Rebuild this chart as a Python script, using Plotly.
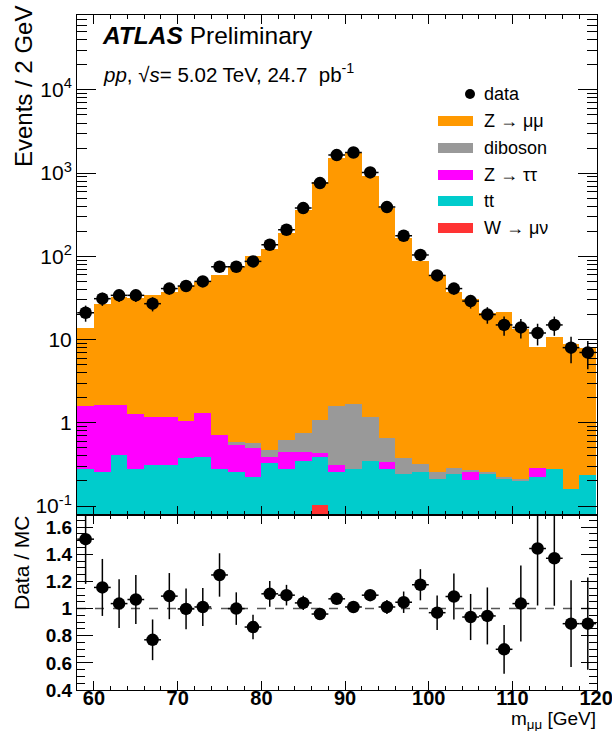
import plotly.graph_objects as go

# ---------------- data ----------------
mass = [59, 61, 63, 65, 67, 69, 71, 73, 75, 77, 79, 81, 83, 85, 87, 89,
        91, 93, 95, 97, 99, 101, 103, 105, 107, 109, 111, 113, 115, 117, 119]

data_counts = [21, 31, 34, 34, 27, 41, 44, 50, 75, 75, 87, 138, 209, 380, 760, 1650,
               1770, 1020, 391, 177, 104, 59, 41, 29, 20, 15, 14, 12, 15, 8, 7]
data_err = [4.6, 5.6, 5.8, 5.8, 5.2, 6.4, 6.6, 7.1, 8.7, 8.7, 9.3, 11.7, 14.5, 19.5, 27.6, 40.6,
            42.1, 31.9, 19.8, 13.3, 10.2, 7.7, 6.4, 5.4, 4.5, 3.9, 3.7, 3.5, 3.9, 2.8, 2.6]

zmumu = [12.3, 25.2, 31.2, 30.6, 33.9, 36.3, 43.0, 48.1, 59.4, 74.4, 100.1, 123.9, 189.4, 364.2,
         790.9, 1537, 1747, 927, 385.3, 168.6, 88.1, 60.5, 37.3, 30.6, 20.8, 21.2, 13.3, 8.0,
         10.6, 8.8, 7.7]
diboson = [0, 0, 0, 0, 0, 0, 0, 0, 0, 0.054, 0.077, 0.08, 0.18, 0.32, 0.66, 1.31,
           1.43, 0.83, 0.32, 0.13, 0.07, 0.047, 0.04, 0.01, 0.013, 0.008, 0.008, 0, 0, 0, 0]
ztautau = [1.305, 1.394, 1.24, 1.02, 0.86, 0.86, 0.69, 0.925, 0.43, 0.286, 0.275, 0.06, 0.17,
           0.10, 0.05, 0.054, 0, 0, 0.057, 0, 0, 0, 0, 0.055, 0, 0, 0, 0.063, 0, 0, 0]
ttbar = [0.28, 0.256, 0.41, 0.28, 0.31, 0.31, 0.38, 0.395, 0.28, 0.26, 0.225, 0.33, 0.28, 0.35,
         0.286, 0.256, 0.28, 0.35, 0.28, 0.247, 0.256, 0.213, 0.247, 0.205, 0.247, 0.215, 0.205,
         0.225, 0.28, 0.163, 0.238]
wmunu = [0, 0, 0, 0, 0, 0, 0, 0, 0, 0, 0, 0, 0, 0, 0.104, 0,
         0, 0, 0, 0, 0, 0, 0, 0, 0, 0, 0, 0, 0, 0, 0]

ratio = [1.512, 1.156, 1.037, 1.067, 0.770, 1.092, 0.998, 1.012, 1.248, 1.0, 0.864, 1.109, 1.099,
         1.042, 0.96, 1.072, 1.012, 1.099, 1.012, 1.047, 1.176, 0.970, 1.089, 0.938, 0.946, 0.70,
         1.037, 1.443, 1.371, 0.889, 0.889]
ratio_err = [0.33, 0.21, 0.18, 0.18, 0.15, 0.17, 0.15, 0.14, 0.16, 0.12, 0.09, 0.095, 0.076, 0.053,
             0.035, 0.026, 0.024, 0.034, 0.051, 0.079, 0.115, 0.127, 0.17, 0.17, 0.21, 0.18, 0.28,
             0.42, 0.35, 0.32, 0.34]

main_ticks = [0.1, 1, 10, 100, 1000, 10000]
main_ticktext = ["10<sup>-1</sup>", "1", "10", "10<sup>2</sup>", "10<sup>3</sup>", "10<sup>4</sup>"]
ratio_ticks = [0.4, 0.6, 0.8, 1.0, 1.2, 1.4, 1.6]
ratio_ticktext = ["0.4", "0.6", "0.8", "1", "1.2", "1.4", "1.6"]
x_ticks = [60, 70, 80, 90, 100, 110, 120]

# ---------------- styling ----------------
W, H = 612, 731
FONT = "Liberation Sans, Arial, Helvetica, sans-serif"
C_ZMM = "#FF9900"
C_DIB = "#999999"
C_ZTT = "#FF00FF"
C_TT = "#00CCCC"
C_W = "#FF3333"

def px_x(p):
    return p / W

def px_y(p):
    return 1 - p / H

x0_dom, x1_dom = px_x(77), px_x(597)
main_dom = [px_y(515), px_y(14.7)]
ratio_dom = [px_y(690), px_y(515)]
x_range = [57.97, 120.1]

fig = go.Figure()

stack = [("W → μν", wmunu, C_W), ("tt", ttbar, C_TT), ("Z → ττ", ztautau, C_ZTT),
         ("diboson", diboson, C_DIB), ("Z → μμ", zmumu, C_ZMM)]
for name, vals, col in stack:
    fig.add_trace(go.Bar(x=mass, y=vals, name=name, marker=dict(color=col, line=dict(width=0)),
                         xaxis="x", yaxis="y", showlegend=False, width=2.0))

fig.add_trace(go.Scatter(
    x=mass, y=data_counts, mode="markers", name="data",
    marker=dict(color="black", size=12.5),
    error_y=dict(type="data", array=data_err, color="black", thickness=1.5, width=0),
    error_x=dict(type="constant", value=1, color="black", thickness=1.5, width=0),
    xaxis="x", yaxis="y", showlegend=False))

fig.add_trace(go.Scatter(
    x=mass, y=ratio, mode="markers", name="ratio",
    marker=dict(color="black", size=12.5),
    error_y=dict(type="data", array=ratio_err, color="black", thickness=1.5, width=0),
    error_x=dict(type="constant", value=1, color="black", thickness=1.5, width=0),
    xaxis="x2", yaxis="y2", showlegend=False))

log_minor = []
for dec in [0.1, 1, 10, 100, 1000, 10000]:
    for m in range(2, 10):
        log_minor.append(dec * m)

axis_common = dict(showline=True, linecolor="black", linewidth=1, mirror="ticks",
                   ticks="inside", tickcolor="black", showgrid=False, zeroline=False,
                   automargin=False)

fig.update_layout(
    width=W, height=H, autosize=False,
    margin=dict(l=0, r=0, t=0, b=0),
    paper_bgcolor="white", plot_bgcolor="white",
    barmode="stack", bargap=0,
    font=dict(family=FONT, color="black"),
    xaxis=dict(domain=[x0_dom, x1_dom], range=x_range, anchor="y", matches="x2",
               showticklabels=False, tickvals=x_ticks, ticklen=9, tickwidth=1,
               minor=dict(dtick=2, tick0=58, ticklen=4, ticks="inside", tickcolor="black"),
               **axis_common),
    yaxis=dict(domain=main_dom, type="log", range=[-1.108, 4.904], anchor="x",
               tickvals=main_ticks, ticktext=main_ticktext, ticklen=19, tickwidth=1,
               tickfont=dict(size=21), ticklabelstandoff=0,
               minor=dict(tickvals=log_minor, ticklen=10, ticks="inside", tickcolor="black"),
               **axis_common),
    xaxis2=dict(domain=[x0_dom, x1_dom], range=x_range, anchor="y2",
                tickvals=x_ticks, ticklen=9, tickwidth=1, ticklabelstandoff=-10,
                ticklabeloverflow="allow",
                tickfont=dict(size=20, weight="bold"),
                minor=dict(dtick=2, tick0=58, ticklen=4, ticks="inside", tickcolor="black"),
                **axis_common),
    yaxis2=dict(domain=ratio_dom, range=[0.4, 1.69], anchor="x2",
                tickvals=ratio_ticks, ticktext=ratio_ticktext, ticklen=16, tickwidth=1,
                tickfont=dict(size=19, weight="bold"), ticklabelstandoff=0,
                minor=dict(dtick=0.05, tick0=0.4, ticklen=8, ticks="inside", tickcolor="black"),
                **axis_common),
)

# dashed unity line in ratio panel
fig.add_shape(type="line", xref="x2", yref="y2", x0=x_range[0], x1=x_range[1], y0=1, y1=1,
              line=dict(color="#555555", width=1.5, dash="dash"), layer="below")

# ---------------- texts ----------------
ann = []
ann.append(dict(x=px_x(100), y=px_y(36), xref="paper", yref="paper", xanchor="left", yanchor="middle",
                text="<b><i>ATLAS</i></b> Preliminary", showarrow=False, font=dict(size=24.5)))
ann.append(dict(x=px_x(101), y=px_y(73), xref="paper", yref="paper", xanchor="left", yanchor="middle",
                text="<i>pp</i>, √<i>s</i>= 5.02 TeV, 24.7  pb<sup>-1</sup>", showarrow=False,
                font=dict(size=20.5)))
ann.append(dict(x=px_x(24), y=px_y(87), xref="paper", yref="paper", xanchor="center", yanchor="middle",
                text="Events / 2 GeV", textangle=-90, showarrow=False, font=dict(size=24)))
ann.append(dict(x=px_x(21), y=px_y(563), xref="paper", yref="paper", xanchor="center", yanchor="middle",
                text="Data / MC", textangle=-90, showarrow=False, font=dict(size=21)))
ann.append(dict(x=px_x(598), y=px_y(706), xref="paper", yref="paper", xanchor="right", yanchor="top",
                text="m<sub>μμ</sub> [GeV]", showarrow=False, font=dict(size=19)))

# legend (manual, ROOT style)
leg_items = [("Z → μμ", C_ZMM, 121), ("diboson", C_DIB, 148), ("Z → ττ", C_ZTT, 175),
             ("tt", C_TT, 201), ("W → μν", C_W, 228)]
shapes = []
shapes.append(dict(type="circle", xref="paper", yref="paper",
                   x0=px_x(465), x1=px_x(475), y0=px_y(99), y1=px_y(89),
                   fillcolor="black", line=dict(color="black", width=0)))
ann.append(dict(x=px_x(482), y=px_y(94), xref="paper", yref="paper", xanchor="left", yanchor="middle",
                text="data", showarrow=False, font=dict(size=18)))
for label, col, yc in leg_items:
    shapes.append(dict(type="rect", xref="paper", yref="paper",
                       x0=px_x(438), x1=px_x(473), y0=px_y(yc + 5), y1=px_y(yc - 5),
                       fillcolor=col, line=dict(width=0)))
    ann.append(dict(x=px_x(482), y=px_y(yc), xref="paper", yref="paper", xanchor="left",
                    yanchor="middle", text=label, showarrow=False, font=dict(size=18)))

for s in shapes:
    fig.add_shape(**s)
fig.update_layout(annotations=ann)

fig.write_html("out.html")
